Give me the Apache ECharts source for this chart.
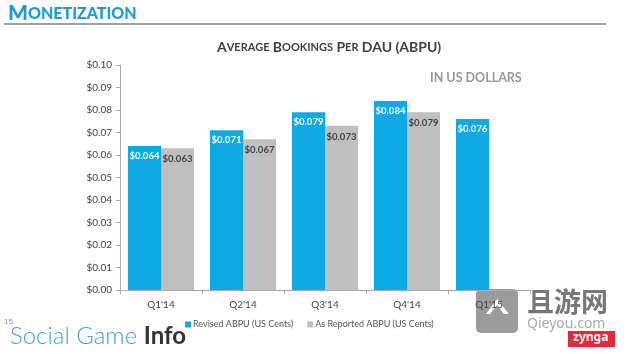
<!DOCTYPE html>
<html><head><meta charset="utf-8">
<script src="https://cdn.jsdelivr.net/npm/echarts@6/dist/echarts.min.js"></script>
<style>html,body{margin:0;padding:0;background:#fff}#c{width:640px;height:354px}</style>
</head><body><div id="c"></div>
<script>
const categories = ["Q1'14", "Q2'14", "Q3'14", "Q4'14", "Q1'15"];
const revised = [0.064, 0.071, 0.079, 0.084, 0.076];
const reported = [0.063, 0.067, 0.073, 0.079, null];
const seriesNames = ["Revised ABPU (US Cents)", "As Reported ABPU (US Cents)"];
const yTicks = [0, 0.01, 0.02, 0.03, 0.04, 0.05, 0.06, 0.07, 0.08, 0.09, 0.10];

const BLUE = '#0daae6', GRAY = '#bfbfbf';
const chart = echarts.init(document.getElementById('c'));
const fmt = v => '$' + v.toFixed(3);
chart.setOption({
  animation: false,
  textStyle: { fontFamily: 'Lato' },
  grid: { left: 120, right: 110, top: 65, bottom: 64 },
  xAxis: {
    type: 'category', data: categories,
    axisLine: { lineStyle: { color: '#aaa' } },
    axisTick: { show: true, alignWithLabel: false, length: 4, lineStyle: { color: '#aaa' } },
    axisLabel: { color: '#444', fontSize: 10, margin: 10 }
  },
  yAxis: {
    type: 'value', min: 0, max: yTicks[yTicks.length - 1], interval: 0.01,
    axisLine: { show: true, lineStyle: { color: '#aaa' } },
    axisTick: { show: true, length: 4, lineStyle: { color: '#aaa' } },
    splitLine: { show: false },
    axisLabel: { color: '#444', fontSize: 10, margin: 8, formatter: v => '$' + v.toFixed(2) }
  },
  legend: {
    bottom: 20, left: 180, itemWidth: 6, itemHeight: 6, itemGap: 14,
    icon: 'rect', textStyle: { color: '#555', fontSize: 9, padding: [0, 0, 0, -3] },
    data: seriesNames
  },
  series: [
    { name: seriesNames[0], type: 'bar', data: revised, barWidth: 33, barGap: '0%',
      itemStyle: { color: BLUE },
      label: { show: true, position: 'insideTop', distance: 5, color: '#fff', fontSize: 9.5, fontWeight: 'bold', formatter: p => fmt(p.value) } },
    { name: seriesNames[1], type: 'bar', data: reported, barWidth: 33, barGap: '0%',
      itemStyle: { color: GRAY },
      label: { show: true, position: 'insideTop', distance: 6, color: '#444', fontSize: 9.5, fontWeight: 'bold', formatter: p => fmt(p.value) } }
  ],
  graphic: [
    { type: 'text', left: 8, top: 3, style: { text: '{b|M}{s|ONETIZATION}', rich: {
        b: { fontSize: 21, fontWeight: 900, fill: '#1a9bd7', fontFamily: 'Lato' },
        s: { fontSize: 16, fontWeight: 900, fill: '#1a9bd7', fontFamily: 'Lato' } } } },
    { type: 'rect', shape: { x: 4, y: 23.5, width: 602, height: 1 }, style: { fill: '#444' } },
    { type: 'text', left: 217, top: 40, style: { text: '{b|A}{s|VERAGE} {b|B}{s|OOKINGS} {b|P}{s|ER} {b|DAU (ABPU)}', rich: {
        b: { fontSize: 14, fontWeight: 'bold', fill: '#404040', fontFamily: 'Lato' },
        s: { fontSize: 11, fontWeight: 'bold', fill: '#404040', fontFamily: 'Lato' } } } },
    { type: 'text', left: 430, top: 71, style: { text: 'IN US DOLLARS', fontSize: 12.5, fontWeight: 'bold', fill: '#999', fontFamily: 'Lato' } },
    { type: 'text', left: 4, top: 318, style: { text: '15', fontSize: 8, fill: '#999' } },
    { type: 'text', left: 10, top: 324, style: { text: '{a|Social Game }{b|Info}', rich: {
        a: { fontSize: 24, fill: '#3aa7d8', fontFamily: 'Lato', fontWeight: 300 },
        b: { fontSize: 24, fill: '#333', fontFamily: 'Lato', fontWeight: 'bold' } } } },
    { type: 'rect', shape: { x: 476, y: 289, width: 42, height: 44, r: 5 }, style: { fill: '#8a8a8a', opacity: 0.85 } },
    { type: 'polygon', shape: { points: [[486, 314], [497, 299], [509, 314], [504, 314], [497, 305], [490, 314]] }, style: { fill: '#fff' } },
    { type: 'text', left: 527, top: 288, style: { text: '且游网', fontSize: 27, fill: '#777', fontWeight: 'bold', fontFamily: 'Noto Sans CJK SC' } },
    { type: 'text', left: 527, top: 317, style: { text: 'Qieyou.com', fontSize: 14, fill: '#aaa', fontFamily: 'Noto Sans' } },
    { type: 'rect', shape: { x: 568, y: 331, width: 47, height: 16 }, style: { fill: '#e5283b' } },
    { type: 'text', left: 573, top: 332, style: { text: 'zynga', fontSize: 12, fill: '#fff', fontWeight: 'bold', fontFamily: 'Noto Sans' } }
  ]
});
</script></body></html>
